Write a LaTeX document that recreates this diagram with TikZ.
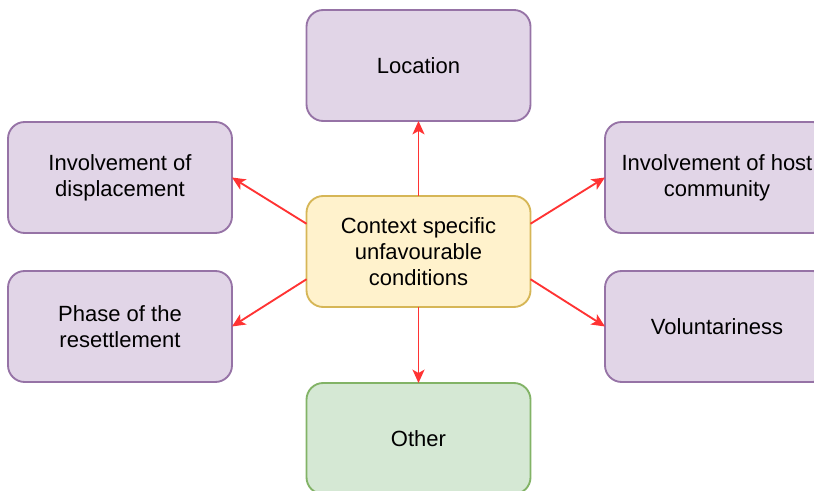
\documentclass[tikz,border=0pt]{standalone}
\usepackage{fontspec}
\setmainfont{Liberation Sans}
\usetikzlibrary{calc,arrows.meta}
\definecolor{pfill}{HTML}{E1D5E7}
\definecolor{pdraw}{HTML}{9673A6}
\definecolor{yfill}{HTML}{FFF2CC}
\definecolor{ydraw}{HTML}{D6B656}
\definecolor{gfill}{HTML}{D5E8D4}
\definecolor{gdraw}{HTML}{82B366}
\definecolor{arr}{HTML}{FF3333}
\begin{document}
\begin{tikzpicture}[x=0.75pt,y=-0.75pt,
  box/.style={rectangle, rounded corners=12.5pt, line width=1.4pt, minimum width=168pt, minimum height=83.25pt, inner sep=0pt, outer sep=0pt, align=center, font=\fontsize{16.5pt}{19.5pt}\selectfont},
  pbox/.style={box, fill=pfill, draw=pdraw},
  ybox/.style={box, fill=yfill, draw=ydraw},
  gbox/.style={box, fill=gfill, draw=gdraw},
  link/.style={draw=arr, line width=1.4pt, -{Stealth[length=10pt,width=9pt,inset=2.5pt]}}]
\useasboundingbox (0,0) rectangle (814,491);
\node[pbox] (loc) at (418.5,65.5) {Location};
\node[pbox] (disp) at (120,177.5) {Involvement of\\displacement};
\node[pbox] (phase) at (120,326.5) {Phase of the\\resettlement};
\node[ybox] (ctx) at (418.5,251.5) {Context specific\\unfavourable\\conditions};
\node[pbox] (host) at (717,177.5) {Involvement of host\\community};
\node[pbox] (vol) at (717,326.5) {Voluntariness};
\node[gbox] (other) at (418.5,438.5) {Other};
\draw[link] (ctx.north) -- (loc.south);
\draw[link] (ctx.south) -- (other.north);
\draw[link] ($(ctx.north west)!.25!(ctx.south west)$) -- (disp.east);
\draw[link] ($(ctx.north west)!.75!(ctx.south west)$) -- (phase.east);
\draw[link] ($(ctx.north east)!.25!(ctx.south east)$) -- (host.west);
\draw[link] ($(ctx.north east)!.75!(ctx.south east)$) -- (vol.west);
\end{tikzpicture}
\end{document}
